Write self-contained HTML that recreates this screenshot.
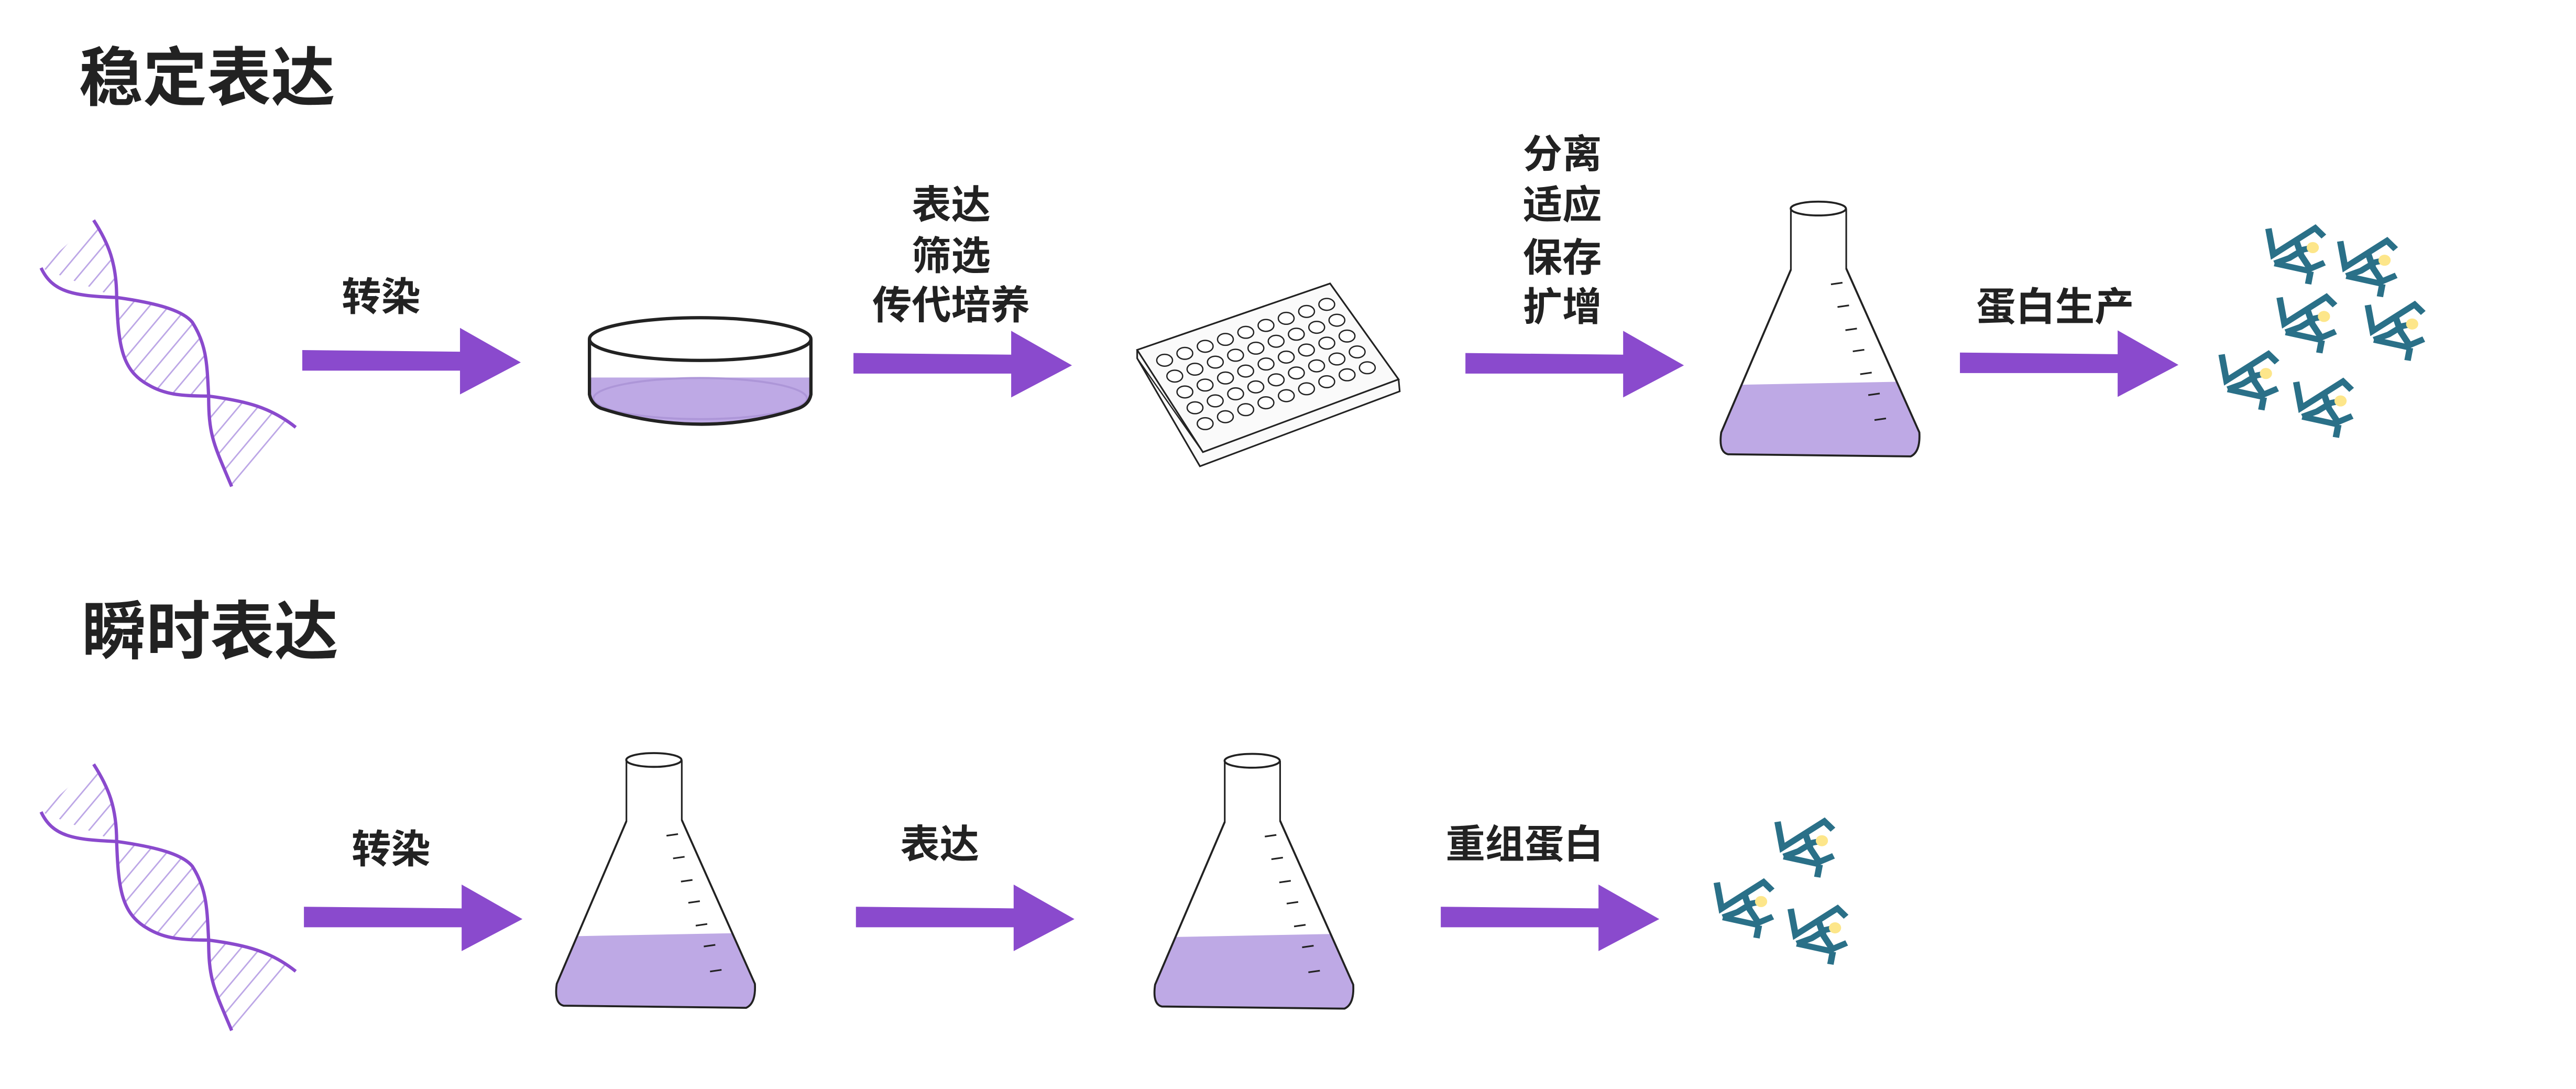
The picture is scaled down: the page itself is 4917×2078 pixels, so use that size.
<!DOCTYPE html>
<html><head><meta charset="utf-8"><style>
html,body{margin:0;padding:0;background:#fff;}
svg{display:block;}
text{font-family:"Liberation Sans","Noto Sans CJK SC",sans-serif;font-weight:bold;fill:#222;}
</style></head><body>
<svg width="4917" height="2078" viewBox="0 0 1568 662.6" preserveAspectRatio="none" xmlns="http://www.w3.org/2000/svg">
<defs>
<pattern id="hatch" width="9" height="9" patternUnits="userSpaceOnUse" patternTransform="rotate(40)">
<line x1="0" y1="0" x2="0" y2="9" stroke="#bca6e6" stroke-width="1.8"/>
</pattern>
<g id="dna">
<path d="M57,134 C66,148 71,160 71,181 L25,163 Z M71,181 C72,210 74,225 90,234 C100,240 110,241 127,241 C126,222 126,210 117,196 C110,189 100,185 71,181 Z M127,241 C150,244 165,248 180,260 L141,296 C130,270 127,260 127,241 Z" fill="url(#hatch)"/>
<path d="M57,134 C66,148 71,160 71,181 C72,210 74,225 90,234 C100,240 110,241 127,241 C150,244 165,248 180,260" fill="none" stroke="#8a4acd" stroke-width="2"/>
<path d="M25,163 C32,178 45,180 71,181 C100,185 112,190 117,196 C126,210 126,222 127,241 C127,265 130,270 141,296" fill="none" stroke="#8a4acd" stroke-width="2"/>
</g>
<g id="flask">
<path d="M1090.1,127 L1090.1,164.1 L1047.7,263.1 Q1046,275 1051.8,276.4 L1163,277.7 Q1169,275 1168.3,263.1 L1123.8,163.4 L1123.8,127" fill="#fff" stroke="#222" stroke-width="1"/>
<path d="M1060.2,234.1 L1154.5,232.3 L1168.3,263.1 Q1169,275 1163,277.7 L1051.8,276.4 Q1046,275 1047.7,263.1 Z" fill="#bea9e5"/>
<path d="M1090.1,164.1 L1047.7,263.1 Q1046,275 1051.8,276.4 L1163,277.7 Q1169,275 1168.3,263.1 L1123.8,163.4" fill="none" stroke="#222" stroke-width="1.2"/>
<ellipse cx="1106.8" cy="126.9" rx="16.8" ry="4.2" fill="#fff" stroke="#222" stroke-width="1.2"/>
<g stroke="#222" stroke-width="1">
<line x1="1114.5" y1="173" x2="1121.5" y2="172"/>
<line x1="1118.5" y1="186.8" x2="1125.5" y2="185.8"/>
<line x1="1123.3" y1="200.9" x2="1130.3" y2="199.9"/>
<line x1="1127.8" y1="213.8" x2="1134.8" y2="212.8"/>
<line x1="1132.3" y1="227.7" x2="1139.3" y2="226.7"/>
<line x1="1137.2" y1="240.4" x2="1144.2" y2="239.4"/>
<line x1="1141" y1="255.6" x2="1148" y2="254.6"/>
</g>
</g>
<g id="prot">
<g fill="none" stroke="#2a7088" stroke-width="35" stroke-linejoin="miter">
<path d="M0,0 L26,155 L253,-3 L300,47"/>
<path d="M33,207 L113,175 L188,125 L240,113"/>
<path d="M153,80 L178,160 L223,235"/>
<path d="M33,207 L233,255"/>
<path d="M223,240 L303,203"/>
<path d="M228,255 L215,330"/>
</g>
<circle cx="240" cy="113" r="33" fill="#fde68a"/>
</g>
<g id="arrow"><path d="M0,13.5 L96,14.5 L96,0 L133,21 L96,40.5 L96,26 L0,26 Z" fill="#8a4acd"/></g>
</defs>

<text x="48" y="61" font-size="39">稳定表达</text>
<text x="50" y="398" font-size="39">瞬时表达</text>

<use href="#dna"/>
<use href="#dna" transform="translate(0,331)"/>

<use href="#arrow" transform="translate(184,199.5)"/>
<use href="#arrow" transform="translate(519.5,201.3)"/>
<use href="#arrow" transform="translate(892,201.3)"/>
<use href="#arrow" transform="translate(1193,201)"/>
<use href="#arrow" transform="translate(185,538.2)"/>
<use href="#arrow" transform="translate(521,538.2)"/>
<use href="#arrow" transform="translate(877,538.2)"/>

<g text-anchor="middle" font-size="24">
<text x="232" y="189">转染</text>
<text x="579" y="133">表达</text>
<text x="579" y="164">筛选</text>
<text x="579" y="194">传代培养</text>
<text x="951" y="102">分离</text>
<text x="951" y="133">适应</text>
<text x="951" y="165">保存</text>
<text x="951" y="195">扩增</text>
<text x="1251" y="195">蛋白生产</text>
<text x="238" y="525">转染</text>
<text x="572" y="522">表达</text>
<text x="928" y="522">重组蛋白</text>
</g>

<!-- petri dish -->
<path d="M358.8,206.3 L358.8,240 Q360,246 366,248.5 Q395,258 427,258.1 Q458,258 486,248.5 Q492.5,246 493.6,240 L493.6,206.3" fill="#fff"/>
<path d="M359.5,229.7 L493,229.7 L493,240 Q492.5,246 486,248.5 Q458,258 427,258.1 Q395,258 366,248.5 Q360,246 359.5,240 Z" fill="#bea9e5"/>
<ellipse cx="426.2" cy="242.5" rx="65" ry="12.5" fill="none" stroke="#ad96d8" stroke-width="1.2"/>
<path d="M358.8,206.3 L358.8,240 Q360,246 366,248.5 Q395,258 427,258.1 Q458,258 486,248.5 Q492.5,246 493.6,240 L493.6,206.3" fill="none" stroke="#222" stroke-width="2"/>
<ellipse cx="426.2" cy="206.3" rx="67.4" ry="13" fill="#fff" stroke="#222" stroke-width="2"/>

<!-- well plate -->
<path d="M692.2,212.9 L692.2,218 L730.4,283.7 L852,238.1 L851.3,230.8 L809.6,172.5 Z" fill="#fafafa" stroke="#222" stroke-width="1"/>
<path d="M692.2,212.9 L809.6,172.5 L851.3,230.8 L732.2,275.1 Z" fill="#fafafa" stroke="#222" stroke-width="1"/>
<path d="M692.2,218 L732.2,275.1 L851.3,230.8" fill="none" stroke="#222" stroke-width="0.8"/>
<g fill="#fff" stroke="#222" stroke-width="0.8" id="holes">
<ellipse cx="708.9" cy="219.2" rx="4.8" ry="3.6"/><ellipse cx="721.2" cy="215" rx="4.8" ry="3.6"/><ellipse cx="733.6" cy="210.7" rx="4.8" ry="3.6"/><ellipse cx="745.9" cy="206.5" rx="4.8" ry="3.6"/><ellipse cx="758.3" cy="202.2" rx="4.8" ry="3.6"/><ellipse cx="770.6" cy="198" rx="4.8" ry="3.6"/><ellipse cx="782.9" cy="193.7" rx="4.8" ry="3.6"/><ellipse cx="795.3" cy="189.5" rx="4.8" ry="3.6"/><ellipse cx="807.6" cy="185.2" rx="4.8" ry="3.6"/>
</g>
<use href="#holes" transform="translate(6.17,9.64)"/>
<use href="#holes" transform="translate(12.34,19.28)"/>
<use href="#holes" transform="translate(18.51,28.92)"/>
<use href="#holes" transform="translate(24.68,38.56)"/>

<use href="#flask"/>
<use href="#flask" transform="translate(-708.8,335.5)"/>
<use href="#flask" transform="translate(-344.6,336)"/>

<use href="#prot" transform="translate(1380.8,139.1) scale(0.1124,0.1022)"/>
<use href="#prot" transform="translate(1424.5,146.8) scale(0.1124,0.1022)"/>
<use href="#prot" transform="translate(1387.6,181) scale(0.1124,0.1022)"/>
<use href="#prot" transform="translate(1441.3,185.6) scale(0.1124,0.1022)"/>
<use href="#prot" transform="translate(1352.3,215.7) scale(0.1124,0.1022)"/>
<use href="#prot" transform="translate(1397.7,232.4) scale(0.1124,0.1022)"/>

<use href="#prot" transform="translate(1082,500) scale(0.1124,0.1022)"/>
<use href="#prot" transform="translate(1045,537) scale(0.1124,0.1022)"/>
<use href="#prot" transform="translate(1090,553) scale(0.1124,0.1022)"/>
</svg>
</body></html>
